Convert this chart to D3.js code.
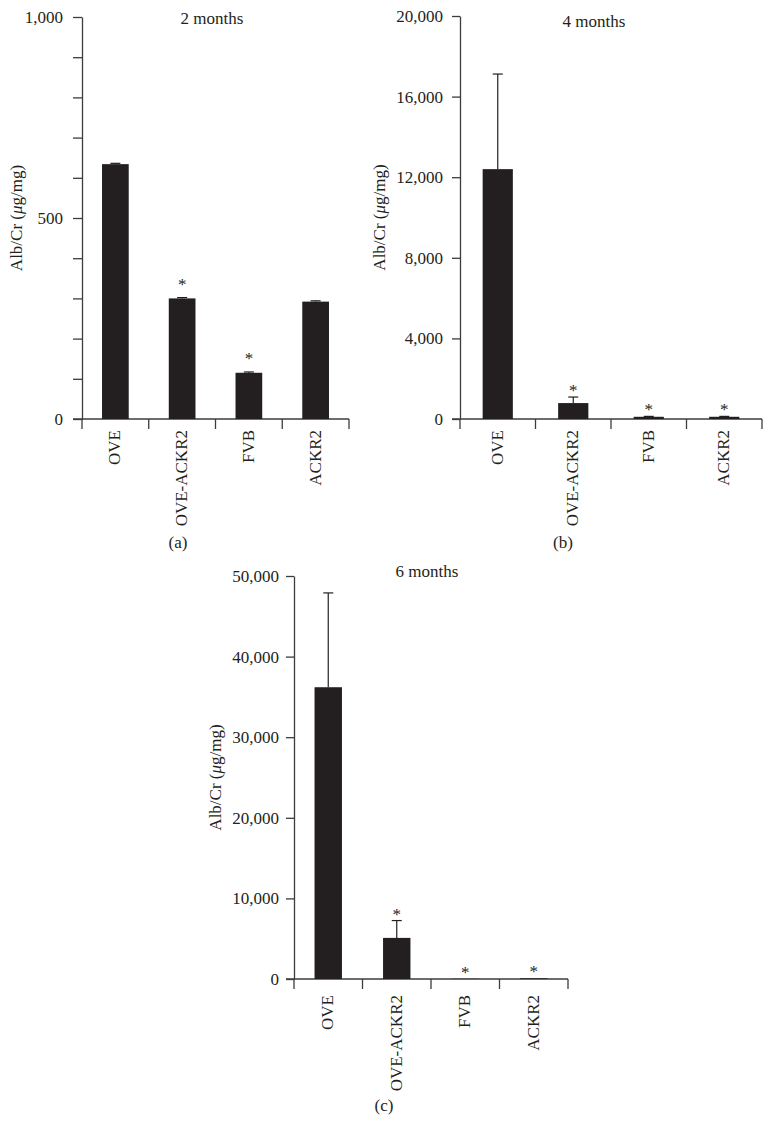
<!DOCTYPE html>
<html lang="en">
<head>
<meta charset="UTF-8">
<title>Alb/Cr by genotype</title>
<style>
  body { margin: 0; padding: 0; background: #fff; }
  svg text { font-family: "Liberation Serif", "Times New Roman", serif; fill: #231f20; }
</style>
</head>
<body>
<div id="chart"></div>
<script src="https://d3js.org/d3.v7.min.js"></script>
<script>
// groups on the x axis (same in every panel)
const groups = ["OVE", "OVE-ACKR2", "FVB", "ACKR2"];

// 2 months
const mean2 = [634, 300, 115, 292];
const err2 = [2, 2, 2, 2];
const star2 = [false, true, true, false];
const ticks2 = [0, 100, 200, 300, 400, 500, 600, 700, 800, 900, 1000];
const labels2 = [0, 500, 1000];

// 4 months
const mean4 = [12400, 790, 110, 110];
const err4 = [4720, 300, 20, 20];
const star4 = [false, true, true, true];
const ticks4 = [0, 4000, 8000, 12000, 16000, 20000];
const labels4 = [0, 4000, 8000, 12000, 16000, 20000];

// 6 months
const mean6 = [36200, 5100, 30, 90];
const err6 = [11700, 2150, 0, 0];
const star6 = [false, true, true, true];
const ticks6 = [0, 10000, 20000, 30000, 40000, 50000];
const labels6 = [0, 10000, 20000, 30000, 40000, 50000];

const W = 773, H = 1124;
const ink = "#231f20", axisCol = "#3c3c3c";
const fmt = d3.format(",");

const svg = d3.select("#chart").append("svg")
  .attr("width", W).attr("height", H);

// panel layout
const panels = [
  { title: "2 months", tag: "(a)", mean: mean2, err: err2, star: star2, ticks: ticks2, labels: labels2,
    max: 1000, x0: 82, x1: 349, yb: 419, yt: 17, tick: 9, pad: 10, catGap: 11, starOff: 16,
    titleX: 212, titleY: 24, ylabX: 22, tagX: 178, tagY: 548 },
  { title: "4 months", tag: "(b)", mean: mean4, err: err4, star: star4, ticks: ticks4, labels: labels4,
    max: 20000, x0: 460, x1: 762, yb: 419, yt: 16, tick: 8, pad: 9, catGap: 11, starOff: 9,
    titleX: 594, titleY: 27, ylabX: 385, tagX: 563, tagY: 548 },
  { title: "6 months", tag: "(c)", mean: mean6, err: err6, star: star6, ticks: ticks6, labels: labels6,
    max: 50000, x0: 294, x1: 568, yb: 979, yt: 576, tick: 8, pad: 7, catGap: 16, starOff: 9,
    titleX: 427, titleY: 577, ylabX: 221, tagX: 384, tagY: 1111 }
];

panels.forEach(p => {
  const g = svg.append("g");

  const y = d3.scaleLinear().domain([0, p.max]).range([p.yb, p.yt]);
  const x = d3.scaleBand().domain(groups).range([p.x0, p.x1]);
  const bw = x.bandwidth() * 0.4;

  // y axis
  const yAxis = g.append("g")
    .attr("transform", `translate(${p.x0},0)`)
    .call(d3.axisLeft(y)
      .tickValues(p.ticks)
      .tickSize(p.tick)
      .tickSizeOuter(0)
      .tickPadding(p.pad)
      .tickFormat(d => p.labels.includes(d) ? fmt(d) : ""));
  yAxis.selectAll("path, line").attr("stroke", axisCol).attr("stroke-width", 1.3);
  yAxis.selectAll("text")
    .attr("fill", ink)
    .style("font-size", "17px")
    .style("font-family", "'Liberation Serif', serif");

  // x axis baseline and group separators
  g.append("line")
    .attr("x1", p.x0 - p.tick).attr("x2", p.x1)
    .attr("y1", p.yb).attr("y2", p.yb)
    .attr("stroke", axisCol).attr("stroke-width", 1.3);
  const seps = groups.map(d => x(d)).concat([p.x1]);
  g.selectAll(".sep").data(seps).enter().append("line")
    .attr("x1", d => d).attr("x2", d => d)
    .attr("y1", p.yb).attr("y2", p.yb + 10)
    .attr("stroke", axisCol).attr("stroke-width", 1.3);

  const rows = groups.map((d, i) => ({ name: d, mean: p.mean[i], err: p.err[i], star: p.star[i] }));

  // error bars (upper only)
  const eb = g.selectAll(".eb").data(rows.filter(d => d.err > 0)).enter().append("g");
  eb.append("line")
    .attr("x1", d => x(d.name) + x.bandwidth() / 2)
    .attr("x2", d => x(d.name) + x.bandwidth() / 2)
    .attr("y1", d => y(d.mean)).attr("y2", d => y(d.mean + d.err))
    .attr("stroke", ink).attr("stroke-width", 1.2);
  eb.append("line")
    .attr("x1", d => x(d.name) + x.bandwidth() / 2 - 5)
    .attr("x2", d => x(d.name) + x.bandwidth() / 2 + 5)
    .attr("y1", d => y(d.mean + d.err)).attr("y2", d => y(d.mean + d.err))
    .attr("stroke", ink).attr("stroke-width", 1.2);

  // bars
  g.selectAll(".bar").data(rows).enter().append("rect")
    .attr("x", d => x(d.name) + (x.bandwidth() - bw) / 2)
    .attr("width", bw)
    .attr("y", d => y(d.mean))
    .attr("height", d => p.yb - y(d.mean))
    .attr("fill", ink);

  // significance stars
  g.selectAll(".star").data(rows.filter(d => d.star)).enter().append("text")
    .attr("x", d => x(d.name) + x.bandwidth() / 2)
    .attr("y", d => y(d.mean + d.err) - p.starOff + 8)
    .attr("text-anchor", "middle")
    .style("font-size", "17px")
    .text("*");

  // category labels, rotated
  g.selectAll(".cat").data(groups).enter().append("text")
    .attr("transform", d => `translate(${x(d) + x.bandwidth() / 2 + 5},${p.yb + p.catGap}) rotate(-90)`)
    .attr("text-anchor", "end")
    .style("font-size", "17px")
    .text(d => d);

  // title
  g.append("text")
    .attr("x", p.titleX).attr("y", p.titleY)
    .attr("text-anchor", "middle")
    .style("font-size", "17px")
    .text(p.title);

  // y label
  const yl = g.append("text")
    .attr("transform", `translate(${p.ylabX},${(p.yb + p.yt) / 2}) rotate(-90)`)
    .attr("text-anchor", "middle")
    .style("font-size", "17px");
  yl.append("tspan").text("Alb/Cr (");
  yl.append("tspan").style("font-style", "italic").text("\u03bc");
  yl.append("tspan").text("g/mg)");

  // panel tag
  g.append("text")
    .attr("x", p.tagX).attr("y", p.tagY)
    .attr("text-anchor", "middle")
    .style("font-size", "17px")
    .text(p.tag);
});
</script>
</body>
</html>
